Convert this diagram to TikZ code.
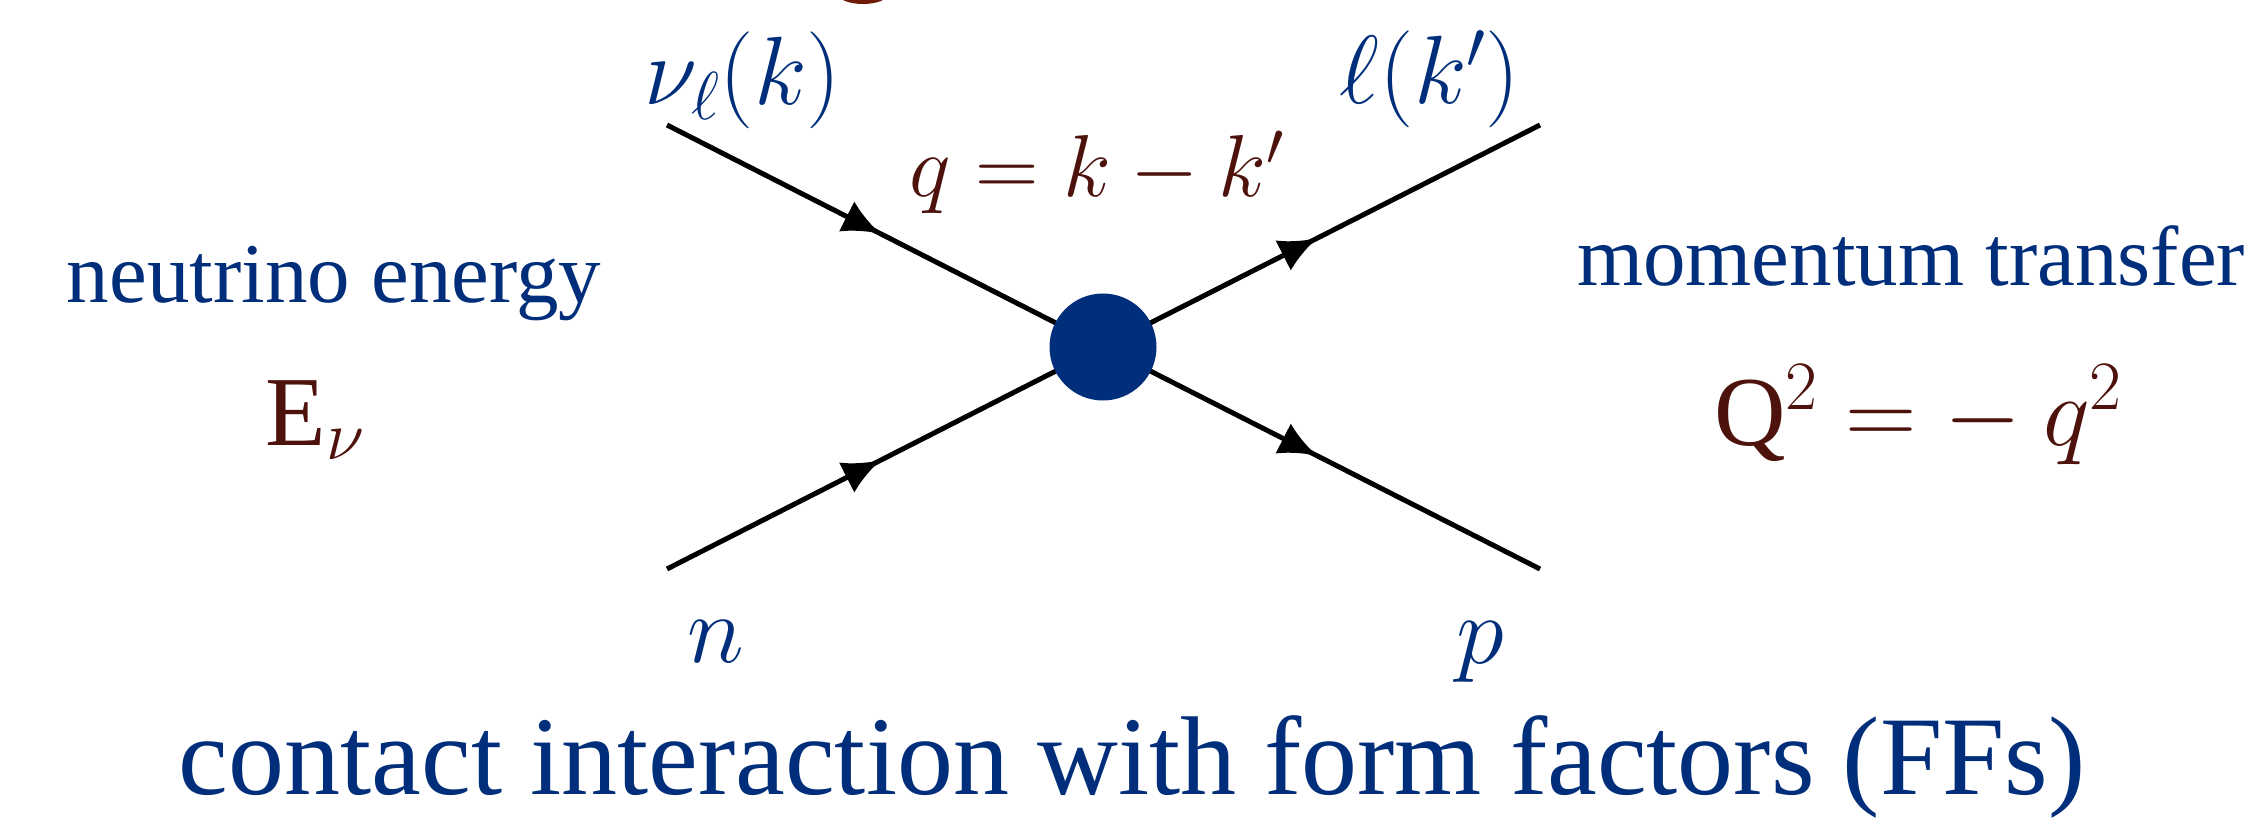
\RequirePackage{fix-cm}
\documentclass[tikz,border=0pt]{standalone}
\usepackage{fontspec}
\setmainfont{Liberation Serif}
\usetikzlibrary{arrows.meta,decorations.markings}
\definecolor{navy}{RGB}{0,46,122}
\definecolor{dred}{RGB}{78,18,12}
\definecolor{rust}{RGB}{110,28,8}
\tikzset{
  leg/.style={line width=5pt, postaction={decorate},
    decoration={markings, mark=at position 0.49 with {\arrow{Latex[length=38pt,width=34pt]}}}},
  lbl/.style={inner sep=0pt, anchor=base},
  partlbl/.style={lbl, text=navy, font=\fontsize{97}{103}\selectfont},
  wordlbl/.style={lbl, text=navy, font=\fontsize{85}{90}\selectfont},
  varlbl/.style={lbl, text=dred, font=\fontsize{99}{105}\selectfont},
  blob/.style={circle, fill=navy, minimum size=107pt, inner sep=0pt}
}
\begin{document}
\begin{tikzpicture}[x=1pt,y=-1pt]
\useasboundingbox (0,0) rectangle (2260,818);
\begin{scope}
  \clip (0,0) rectangle (2260,818);
  \fill[rust] (863,-6) ellipse [x radius=25, y radius=10];
\end{scope}
% external legs
\coordinate (inl) at (667,125);
\coordinate (inn) at (667,569);
\coordinate (outl) at (1540,125);
\coordinate (outp) at (1540,569);
\coordinate (vc) at (1103,347);
\draw[leg] (inl) -- (vc);
\draw[leg] (inn) -- (vc);
\draw[leg] (vc) -- (outl);
\draw[leg] (vc) -- (outp);
\node[blob] (v) at (vc) {};
% particle labels
\node[partlbl] (nu) at (743,105) {$\nu_\ell(k)$};
\node[partlbl] (lep) at (1430,104) {$\ell(k')$};
\node[partlbl] (n) at (716,662) {$n$};
\node[partlbl] (p) at (1480,663) {$p$};
\node[lbl, text=dred, font=\fontsize{88}{94}\selectfont] (q) at (1097,197) {$q = k - k'$};
% side labels
\node[wordlbl] (ne) at (334,303) {neutrino energy};
\node[varlbl] (ev) at (315,445) {$\mathrm{E}_\nu$};
\node[wordlbl] (mt) at (1911,286) {momentum transfer};
\node[varlbl] (q2) at (1918,445) {$\mathrm{Q}^2 = -\: q^2$};
% caption
\node[lbl, text=navy, font=\fontsize{112}{118}\selectfont] (cap) at (1132,794) {contact interaction with form factors (FFs)};
\end{tikzpicture}
\end{document}
